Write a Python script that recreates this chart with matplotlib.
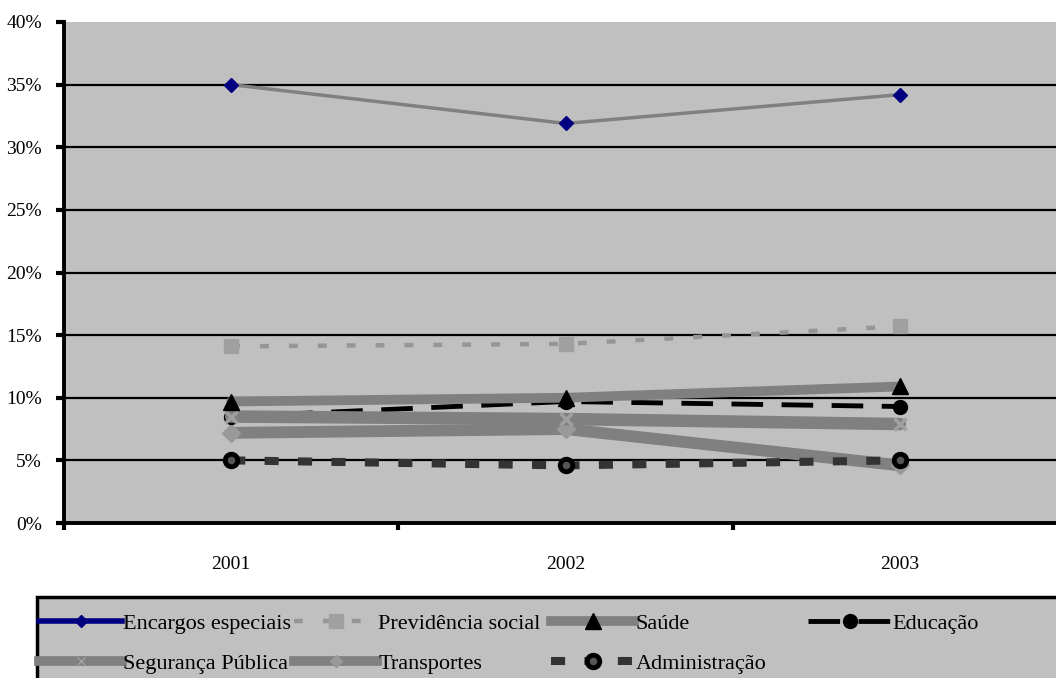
import matplotlib
matplotlib.use("Agg")
import matplotlib.pyplot as plt
from matplotlib.lines import Line2D
from matplotlib.patches import Rectangle

plt.rcParams['font.family'] = ['Liberation Serif', 'DejaVu Serif']

anos = ['2001', '2002', '2003']
encargos = [35.0, 31.9, 34.2]
previdencia = [14.1, 14.3, 15.7]
saude = [9.7, 10.0, 10.9]
educacao = [8.5, 9.7, 9.3]
seguranca = [8.5, 8.3, 7.9]
transportes = [7.2, 7.5, 4.6]
administracao = [5.0, 4.6, 5.0]

yticks = [0, 5, 10, 15, 20, 25, 30, 35, 40]
ylabels = ['0%', '5%', '10%', '15%', '20%', '25%', '30%', '35%', '40%']

W, H = 1056, 678
fig = plt.figure(figsize=(W/100, H/100), dpi=100)
ax = fig.add_axes([64/W, 1-523/H, 1003/W, 501/H])
ax.set_facecolor('#C0C0C0')

x = range(len(anos))

for t in yticks[1:-1]:
    ax.axhline(t, color='black', lw=1.6, zorder=1)

# estilos das series
st_enc = dict(color='#808080', lw=2.5, marker='D', ms=7, mfc='#000080', mec='#000080')
st_prev = dict(color='#969696', lw=3.2, dashes=(2, 4.5), marker='s', ms=10, mfc='#A0A0A0', mec='#A0A0A0')
st_sau = dict(color='#808080', lw=7, marker='^', ms=11, mfc='black', mec='black')
st_edu = dict(color='black', lw=3.5, dashes=(6.5, 3.8), marker='o', ms=10, mfc='black', mec='black')
st_seg = dict(color='#808080', lw=9, marker='x', ms=9, mew=2.5, mec='#A0A0A0')
st_tra = dict(color='#808080', lw=8.5, marker='D', ms=9, mfc='#999999', mec='#999999')
st_adm = dict(color='#333333', lw=5.8, dashes=(1.75, 2.4), marker='o', ms=9, mfc='#555555', mec='black', mew=3.5)

ax.plot(x, transportes, solid_capstyle='round', zorder=2, **st_tra)
ax.plot(x, educacao, zorder=2, **st_edu)
ax.plot(x, seguranca, solid_capstyle='round', zorder=2, **st_seg)
ax.plot(x, saude, solid_capstyle='round', zorder=3, **st_sau)
ax.plot(x, administracao, zorder=3, **st_adm)
ax.plot(x, previdencia, zorder=3, **st_prev)
ax.plot(x, encargos, zorder=4, **st_enc)

ax.set_xlim(-0.5, 2.5)
ax.set_ylim(0, 40)
ax.set_yticks(yticks)
ax.set_yticklabels(ylabels, fontsize=14)
ax.set_xticks(list(x))
ax.set_xticklabels(anos, fontsize=14)
ax.set_xticks([-0.5, 0.5, 1.5, 2.5], minor=True)
ax.tick_params(axis='x', which='major', length=0, pad=24)
ax.tick_params(axis='x', which='minor', length=5, width=3, direction='out')
ax.tick_params(axis='y', length=6, width=3, direction='out', pad=10)

for s in ['top', 'right']:
    ax.spines[s].set_visible(False)
ax.spines['left'].set_linewidth(2.8)
ax.spines['bottom'].set_linewidth(2.8)

# caixa da legenda
fig.add_artist(Rectangle((37/W, -0.05), 1.1, 0.05 + 1 - 597/H, transform=fig.transFigure,
                         fc='#C0C0C0', ec='black', lw=2.5, zorder=0))

h_enc = Line2D([], [], color='#000080', lw=4, marker='D', ms=6, mfc='#000080', mec='#000080')
h_prev = Line2D([], [], **st_prev)
h_sau = Line2D([], [], color='#808080', lw=7, marker='^', ms=11, mfc='black', mec='black')
h_edu = Line2D([], [], **st_edu)
h_seg = Line2D([], [], color='#808080', lw=7, marker='x', ms=6, mec='#A0A0A0')
h_tra = Line2D([], [], color='#808080', lw=7, marker='D', ms=6, mfc='#999999', mec='#999999')
h_adm = Line2D([], [], **st_adm)

colunas = [
    ([h_enc, h_seg], ['Encargos especiais', 'Segurança Pública'], 39),
    ([h_prev, h_tra], ['Previdência social', 'Transportes'], 294),
    ([h_sau, h_adm], ['Saúde', 'Administração'], 551),
    ([h_edu], ['Educação'], 808),
]
for hs, ls, x0 in colunas:
    leg = fig.legend(hs, ls, loc='upper left', bbox_to_anchor=(x0/W, 1-613/H),
                     fontsize=16, handlelength=3.75, handletextpad=0.05,
                     labelspacing=0.9, borderpad=0, borderaxespad=0, numpoints=1,
                     frameon=False)

fig.savefig('out.png', dpi=100)
